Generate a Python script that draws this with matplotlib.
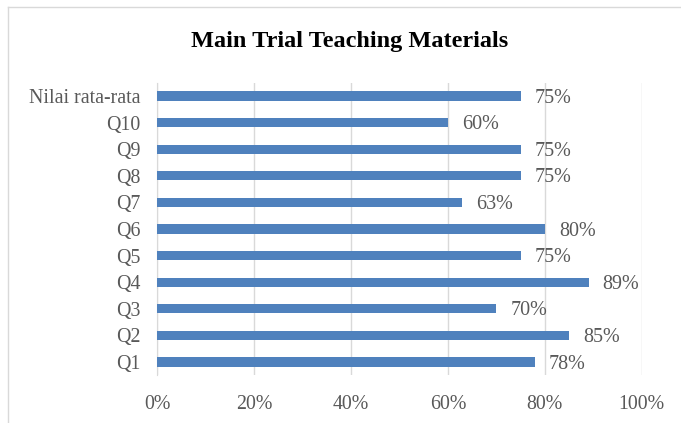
#!/usr/bin/env python3
import matplotlib
matplotlib.use('Agg')
import matplotlib.pyplot as plt
from matplotlib.lines import Line2D
from matplotlib.ticker import FuncFormatter

# data (bottom to top)
categories = ['Q1', 'Q2', 'Q3', 'Q4', 'Q5', 'Q6', 'Q7', 'Q8', 'Q9', 'Q10',
              'Nilai rata-rata']
values = [78, 85, 70, 89, 75, 80, 63, 75, 75, 60, 75]
xticks = [0, 20, 40, 60, 80, 100]

plt.rcParams['font.family'] = ['Liberation Serif', 'DejaVu Serif']

fig = plt.figure(figsize=(6.81, 4.23), dpi=100)
ax = fig.add_axes([0.2305, 0.1128, 0.712, 0.6917])

# chart border (only top and left edges are visible in the crop)
fig.lines.append(Line2D([0.012, 1.0], [0.983, 0.983], transform=fig.transFigure,
                        color='#d9d9d9', linewidth=1))
fig.lines.append(Line2D([0.012, 0.012], [0.0, 0.983], transform=fig.transFigure,
                        color='#d9d9d9', linewidth=1))

ypos = list(range(len(categories)))
ax.barh(ypos, values, height=0.35, color='#4f81bd', zorder=3)

for y, v in zip(ypos, values):
    ax.annotate('%d%%' % v, (v, y), xytext=(10, -1.5), textcoords='offset points',
                ha='left', va='center', fontsize=14.5, color='#595959')

ax.set_xlim(0, 100)
ax.set_ylim(-0.5, len(categories) - 0.5)
ax.set_xticks(xticks)
ax.xaxis.set_major_formatter(FuncFormatter(lambda x, p: '%d%%' % x))
ax.set_yticks(ypos)
ax.set_yticklabels(categories)
ax.tick_params(axis='both', length=0, labelsize=14.3, labelcolor='#595959')
ax.tick_params(axis='x', pad=14)
ax.tick_params(axis='y', pad=12)

ax.grid(axis='x', color='#d9d9d9', linewidth=1, zorder=0)
for s in ['top', 'right', 'bottom']:
    ax.spines[s].set_visible(False)
ax.spines['left'].set_color('#d9d9d9')

fig.text(0.513, 0.902, 'Main Trial Teaching Materials', ha='center', va='center',
         fontsize=17.5, fontweight='bold', color='black')

fig.savefig('out.png', dpi=100)
